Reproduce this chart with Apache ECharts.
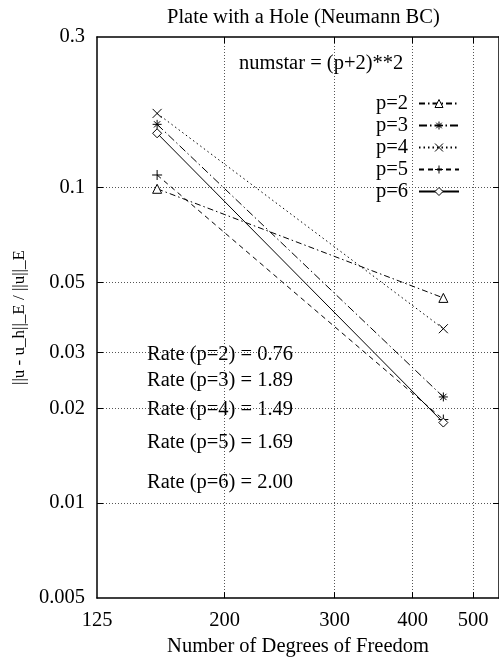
<!DOCTYPE html>
<html>
<head>
<meta charset="utf-8">
<script src="https://cdn.jsdelivr.net/npm/echarts@6/dist/echarts.min.js"></script>
<style>
  html, body { margin: 0; padding: 0; background: #fff; }
  #chart { width: 499px; height: 662px; }
</style>
</head>
<body>
<div id="chart"></div>
<script>
// Degrees of freedom for the two meshes
const dofs = [156, 448];

// Relative energy-norm errors per polynomial order
const errP2 = [0.0991, 0.0447];
const errP3 = [0.1586, 0.0217];
const errP4 = [0.1718, 0.0357];
const errP5 = [0.1096, 0.0184];
const errP6 = [0.1486, 0.0180];

const seriesNames = ['p=2', 'p=3', 'p=4', 'p=5', 'p=6'];
const rateLabels = [
  'Rate (p=2) = 0.76',
  'Rate (p=3) = 1.89',
  'Rate (p=4) = 1.49',
  'Rate (p=5) = 1.69',
  'Rate (p=6) = 2.00'
];

const xLabelValues = [125, 200, 300, 400, 500];
const xGridValues = [200, 300, 400, 500];
const yLabelValues = [0.005, 0.01, 0.02, 0.03, 0.05, 0.1, 0.3];
const yGridValues = [0.01, 0.02, 0.03, 0.05, 0.1];

const FONT = "'Liberation Serif', 'DejaVu Serif', serif";

function pairs(ys) {
  return dofs.map((x, i) => [x, ys[i]]);
}

function nearestLabel(v, list) {
  let best = list[0];
  for (const c of list) {
    if (Math.abs(Math.log(c) - Math.log(v)) < Math.abs(Math.log(best) - Math.log(v))) best = c;
  }
  return String(best);
}

const markerStyle = { color: '#fff', borderColor: '#000', borderWidth: 1 };

const styles = [
  { symbol: 'triangle', size: 9, dash: [6, 3, 1.5, 3] },
  { symbol: 'path://M5,0L5,10M0,5L10,5M1.5,1.5L8.5,8.5M8.5,1.5L1.5,8.5', size: 9, dash: [8, 3, 1.5, 3] },
  { symbol: 'path://M0,0L10,10M10,0L0,10', size: 9, dash: [1.5, 3] },
  { symbol: 'path://M5,0L5,10M0,5L10,5', size: 10, dash: [5, 4] },
  { symbol: 'diamond', size: 9, dash: 'solid' }
];
const errs = [errP2, errP3, errP4, errP5, errP6];

const series = seriesNames.map((name, i) => ({
  name: name,
  type: 'line',
  xAxisIndex: 0,
  yAxisIndex: 0,
  data: pairs(errs[i]),
  symbol: styles[i].symbol,
  symbolSize: styles[i].size,
  showAllSymbol: true,
  color: '#000',
  itemStyle: markerStyle,
  lineStyle: { color: '#000', width: 1, type: styles[i].dash },
  emphasis: { disabled: true },
  animation: false,
  z: 3
}));

const gridLine = { show: true, lineStyle: { color: '#555', width: 1, type: [1, 2] } };
const axisLine = { show: true, onZero: false, lineStyle: { color: '#000', width: 1.5 } };
const tick = (vals) => ({ show: true, inside: true, length: 6, customValues: vals, lineStyle: { color: '#000', width: 1 } });

const chart = echarts.init(document.getElementById('chart'), null, { renderer: 'canvas' });

chart.setOption({
  backgroundColor: '#fff',
  animation: false,
  title: {
    text: 'Plate with a Hole (Neumann BC)',
    left: 162,
    top: 2,
    textStyle: { fontFamily: FONT, fontSize: 20.5, fontWeight: 'normal', color: '#000' }
  },
  grid: { left: 97, right: -2, top: 37, bottom: 59, containLabel: false },
  legend: {
    orient: 'vertical',
    align: 'right',
    right: 34,
    top: 88,
    itemWidth: 40,
    itemHeight: 10,
    itemGap: 1,
    data: seriesNames,
    itemStyle: { color: '#fff', borderColor: '#000', borderWidth: 1 },
    textStyle: { fontFamily: FONT, fontSize: 20.5, color: '#000', padding: [0, 6, 0, 0] },
    selectedMode: false
  },
  xAxis: [
    {
      type: 'log', logBase: 10, min: 125, max: 550,
      position: 'bottom',
      name: 'Number of Degrees of Freedom',
      nameLocation: 'middle',
      nameGap: 33,
      nameTextStyle: { fontFamily: FONT, fontSize: 20.5, color: '#000' },
      axisLine: axisLine,
      axisTick: tick(xGridValues),
      splitLine: gridLine,
      axisLabel: {
        customValues: xLabelValues,
        margin: 12,
        fontFamily: FONT, fontSize: 20.5, color: '#000',
        formatter: (v) => nearestLabel(v, xLabelValues)
      }
    },
    {
      type: 'log', logBase: 10, min: 125, max: 550,
      position: 'top',
      axisLine: axisLine,
      axisTick: tick(xGridValues),
      splitLine: { show: false },
      axisLabel: { show: false }
    }
  ],
  yAxis: [
    {
      type: 'log', logBase: 10, min: 0.005, max: 0.3,
      position: 'left',
      name: '||u - u_h||_E / ||u||_E',
      nameLocation: 'middle',
      nameGap: 67,
      nameTextStyle: { fontFamily: FONT, fontSize: 17, color: '#000' },
      axisLine: axisLine,
      axisTick: tick(yGridValues),
      splitLine: gridLine,
      axisLabel: {
        customValues: yLabelValues,
        margin: 12,
        fontFamily: FONT, fontSize: 20.5, color: '#000',
        formatter: (v) => nearestLabel(v, yLabelValues)
      }
    },
    {
      type: 'log', logBase: 10, min: 0.005, max: 0.3,
      position: 'right',
      axisLine: axisLine,
      axisTick: tick(yGridValues),
      splitLine: { show: false },
      axisLabel: { show: false }
    }
  ],
  graphic: [
    {
      type: 'text', left: 239, top: 53,
      style: { text: 'numstar = (p+2)**2', font: '20.5px ' + FONT, fill: '#000' }
    }
  ].concat(rateLabels.map((t, i) => ({
    type: 'text',
    left: 147,
    top: [355, 381, 410, 443, 483][i] - 11,
    style: { text: t, font: '20.5px ' + FONT, fill: '#000' }
  }))),
  series: series
});
</script>
</body>
</html>
